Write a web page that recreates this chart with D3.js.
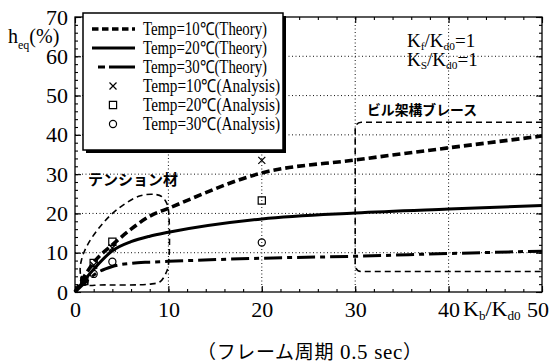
<!DOCTYPE html>
<html>
<head>
<meta charset="utf-8">
<script src="https://cdn.jsdelivr.net/npm/d3@7"></script>
<style>
  body { margin: 0; background: #fff; }
  svg { display: block; font-family: "Liberation Serif", "Times New Roman", serif; }
</style>
</head>
<body>
<svg id="chart" width="554" height="363"></svg>
<script>
// data
let kb = [0, 1, 2, 4, 6, 8, 10, 20, 30, 40, 50];
let theory10 = [0, 4, 7.5, 12, 16, 19.3, 21.3, 30.3, 33.6, 36.7, 39.7];
let theory20 = [0, 3, 5.8, 10.5, 12.8, 14.2, 15.2, 18.6, 20.1, 21.1, 22];
let theory30 = [0, 2.2, 4.3, 6.5, 7.3, 7.6, 7.8, 8.6, 9.1, 9.8, 10.4];

let kbAnalysis = [1, 2, 4, 20];
let analysis10 = [3.2, 6.8, 11.2, 33.5];
let analysis20 = [2.8, 7.4, 12.8, 23.3];
let analysis30 = [2.6, 4.6, 7.7, 12.6];

let xTicks = [0, 10, 20, 30, 40, 50];
let yTicks = [0, 10, 20, 30, 40, 50, 60, 70];

let legendLabels = ['Temp=10℃(Theory)', 'Temp=20℃(Theory)', 'Temp=30℃(Theory)',
    'Temp=10℃(Analysis)', 'Temp=20℃(Analysis)', 'Temp=30℃(Analysis)'];

// outline of the "テンション材" region (Kb/Kd0, heq)
let tensionX = [0.55, 0.75, 1.3, 2.7, 8, 9.1, 9.7, 10, 10, 9.8, 9.3, 8.7, 7, 4.5, 2.7, 1.25, 0.7];
let tensionY = [5.6, 3.1, 1.8, 1.8, 2, 2.6, 4.6, 6.9, 21, 22.7, 24.3, 24.8, 24.5, 21, 16.7, 11.6, 8.2];
// "ビル架構ブレース" region
let braceX = [30, 50];
let braceY = [5.2, 43.2];

let x = d3.scaleLinear().domain([0, 50]).range([75, 542]);
let y = d3.scaleLinear().domain([0, 70]).range([292, 17]);

let svg = d3.select('#chart');

// grid
svg.append('g').selectAll('line.vg')
    .data(xTicks.slice(1, -1))
    .join('line')
    .attr('x1', d => x(d)).attr('x2', d => x(d))
    .attr('y1', y(0)).attr('y2', y(70))
    .attr('stroke', '#111').attr('stroke-width', 1).attr('stroke-dasharray', '1,2.5');
svg.append('g').selectAll('line.hg')
    .data(yTicks.slice(1, -1))
    .join('line')
    .attr('x1', x(0)).attr('x2', x(50))
    .attr('y1', d => y(d)).attr('y2', d => y(d))
    .attr('stroke', '#111').attr('stroke-width', 1).attr('stroke-dasharray', '1,2.5');

// annotation regions
let outline = d3.line().x(d => x(d[0])).y(d => y(d[1])).curve(d3.curveCatmullRomClosed.alpha(0.5));
svg.append('path')
    .attr('d', outline(tensionX.map((v, i) => [v, tensionY[i]])))
    .attr('fill', 'none').attr('stroke', '#000').attr('stroke-width', 1.6).attr('stroke-dasharray', '6,4');

let bp = d3.path();
let r = 6;
bp.moveTo(x(braceX[1]), y(braceY[1]));
bp.arcTo(x(braceX[0]), y(braceY[1]), x(braceX[0]), y(braceY[0]), r);
bp.arcTo(x(braceX[0]), y(braceY[0]), x(braceX[1]), y(braceY[0]), r);
bp.lineTo(x(braceX[1]), y(braceY[0]));
svg.append('path')
    .attr('d', bp.toString())
    .attr('fill', 'none').attr('stroke', '#000').attr('stroke-width', 1.6).attr('stroke-dasharray', '6,4');

// theory curves
let styles = [
    { dash: '8,4', width: 3.6 },
    { dash: null, width: 3 },
    { dash: '18,5,5,5', width: 3 }
];
let line = d3.line().x((d, i) => x(kb[i])).y(d => y(d)).curve(d3.curveMonotoneX);
[theory10, theory20, theory30].forEach((s, i) => {
    svg.append('path')
        .attr('d', line(s))
        .attr('fill', 'none')
        .attr('stroke', '#000')
        .attr('stroke-width', styles[i].width)
        .attr('stroke-dasharray', styles[i].dash);
});

// analysis markers
function drawCross(g, cx, cy) {
    g.append('path')
        .attr('d', `M${cx - 3.5},${cy - 3.5}L${cx + 3.5},${cy + 3.5}M${cx - 3.5},${cy + 3.5}L${cx + 3.5},${cy - 3.5}`)
        .attr('stroke', '#000').attr('stroke-width', 1.2).attr('fill', 'none');
}
function drawSymbol(g, type, size, cx, cy) {
    g.append('path')
        .attr('d', d3.symbol().type(type).size(size)())
        .attr('transform', `translate(${cx},${cy})`)
        .attr('stroke', '#000').attr('stroke-width', 1.2).attr('fill', 'none');
}
let marks = svg.append('g');
kbAnalysis.forEach((k, i) => {
    drawCross(marks, x(k), y(analysis10[i]));
    drawSymbol(marks, d3.symbolSquare, 52, x(k), y(analysis20[i]));
    drawSymbol(marks, d3.symbolCircle, 40, x(k), y(analysis30[i]));
});

// frame and axes (ticks inward)
svg.append('rect')
    .attr('x', x(0)).attr('y', y(70))
    .attr('width', x(50) - x(0)).attr('height', y(0) - y(70))
    .attr('fill', 'none').attr('stroke', '#000').attr('stroke-width', 1.3);

function styleAxis(g) {
    g.select('.domain').remove();
    g.attr('font-family', null).attr('font-size', 22);
    g.selectAll('line').attr('stroke-width', 1.1);
}
let xAxis = svg.append('g').attr('transform', `translate(0,${y(0)})`)
    .call(d3.axisBottom(x).tickValues(xTicks).tickSize(-6).tickSizeOuter(0).tickPadding(9))
    .call(styleAxis);
xAxis.selectAll('text').filter(d => d === 50).attr('dx', '-0.2em');
svg.append('g').attr('transform', `translate(0,${y(0)})`)
    .call(d3.axisBottom(x).ticks(25).tickSize(-3).tickSizeOuter(0).tickFormat(''))
    .call(styleAxis);
svg.append('g').attr('transform', `translate(0,${y(70)})`)
    .call(d3.axisTop(x).tickValues(xTicks).tickSize(-6).tickSizeOuter(0).tickFormat(''))
    .call(styleAxis);
svg.append('g').attr('transform', `translate(0,${y(70)})`)
    .call(d3.axisTop(x).ticks(25).tickSize(-3).tickSizeOuter(0).tickFormat(''))
    .call(styleAxis);

svg.append('g').attr('transform', `translate(${x(0)},0)`)
    .call(d3.axisLeft(y).tickValues(yTicks).tickSize(-6).tickSizeOuter(0).tickPadding(7))
    .call(styleAxis);
svg.append('g').attr('transform', `translate(${x(0)},0)`)
    .call(d3.axisLeft(y).ticks(35).tickSize(-3).tickSizeOuter(0).tickFormat(''))
    .call(styleAxis);
svg.append('g').attr('transform', `translate(${x(50)},0)`)
    .call(d3.axisRight(y).tickValues(yTicks).tickSize(-6).tickSizeOuter(0).tickFormat(''))
    .call(styleAxis);
svg.append('g').attr('transform', `translate(${x(50)},0)`)
    .call(d3.axisRight(y).ticks(35).tickSize(-3).tickSizeOuter(0).tickFormat(''))
    .call(styleAxis);

// text with subscripts
function richText(px, py, parts, size, shift) {
    let t = svg.append('text').attr('x', px).attr('y', py).attr('font-size', size);
    let down = shift * size;
    let shifted = false;
    parts.forEach(p => {
        let ts = t.append('tspan').text(p[0]);
        if (p[1]) {
            ts.attr('font-size', size * 0.6);
            if (!shifted) { ts.attr('dy', down); shifted = true; }
        } else if (shifted) {
            ts.attr('dy', -down); shifted = false;
        }
    });
    return t;
}
richText(8, 43, [['h'], ['eq', true], ['(%)']], 20, 0.3);
richText(463, 316, [['K'], ['b', true], ['/K'], ['d0', true]], 22, 0.2);
richText(407, 47, [['K'], ['f', true], ['/K'], ['d0', true], ['=1']], 19, 0.15);
richText(407, 66, [['K'], ['S', true], ['/K'], ['d0', true], ['=1']], 19, 0.15);

svg.append('text').attr('x', 88).attr('y', 185)
    .attr('font-family', '"Noto Sans CJK JP", sans-serif').attr('font-size', 15).attr('font-weight', 'bold')
    .attr('textLength', 90).attr('lengthAdjust', 'spacingAndGlyphs')
    .text('テンション材');
svg.append('text').attr('x', 367).attr('y', 115)
    .attr('font-family', '"Noto Sans CJK JP", sans-serif').attr('font-size', 14).attr('font-weight', 'bold')
    .attr('textLength', 110).attr('lengthAdjust', 'spacingAndGlyphs')
    .text('ビル架構ブレース');

// caption
let cap = svg.append('text').attr('x', 197).attr('y', 359).attr('font-size', 19)
    .attr('textLength', 225).attr('lengthAdjust', 'spacing');
cap.append('tspan').attr('font-family', '"Noto Sans CJK JP", sans-serif').text('（フレーム周期');
cap.append('tspan').attr('font-size', 21).text(' 0.5 sec');
cap.append('tspan').attr('font-family', '"Noto Sans CJK JP", sans-serif').text('）');

// legend
let lg = svg.append('g');
lg.append('rect').attr('x', 86).attr('y', 16).attr('width', 200).attr('height', 137).attr('fill', '#000');
lg.append('rect').attr('x', 83).attr('y', 13).attr('width', 200).attr('height', 137)
    .attr('fill', '#fff').attr('stroke', '#000').attr('stroke-width', 1.5);
let rowY = d3.scaleLinear().domain([0, 5]).range([35, 130]);
let textLen = [124, 124, 124, 137, 137, 137];
legendLabels.forEach((lab, i) => {
    let cy = rowY(i) - 6;
    if (i < 3) {
        lg.append('line')
            .attr('x1', i === 2 ? 98 : 92).attr('x2', 135)
            .attr('y1', cy).attr('y2', cy)
            .attr('stroke', '#000')
            .attr('stroke-width', styles[i].width)
            .attr('stroke-dasharray', i === 0 ? '6.5,3.5' : i === 2 ? '7,4,40' : null);
    } else if (i === 3) {
        drawCross(lg, 113, cy);
    } else if (i === 4) {
        drawSymbol(lg, d3.symbolSquare, 52, 113, cy);
    } else {
        drawSymbol(lg, d3.symbolCircle, 40, 113, cy);
    }
    lg.append('text').attr('x', 143).attr('y', rowY(i))
        .attr('font-size', 18)
        .attr('textLength', textLen[i]).attr('lengthAdjust', 'spacingAndGlyphs')
        .text(lab);
});
</script>
</body>
</html>
